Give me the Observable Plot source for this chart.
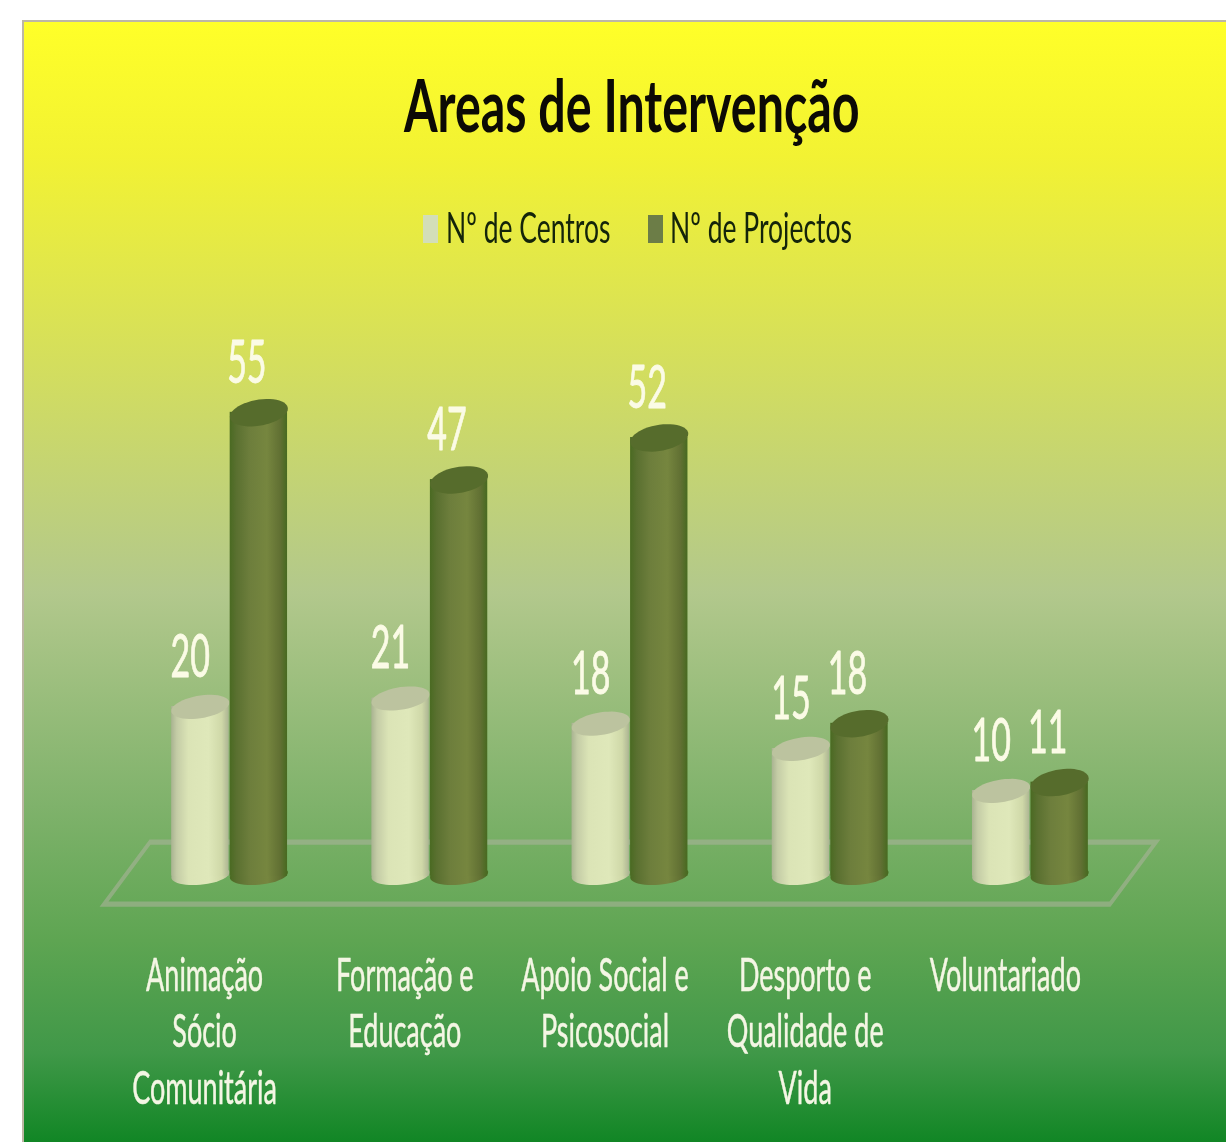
<!DOCTYPE html>
<html lang="pt">
<head>
<meta charset="utf-8">
<script src="https://cdn.jsdelivr.net/npm/d3@7"></script>
<script src="https://cdn.jsdelivr.net/npm/@observablehq/plot@0.6"></script>
<style>
html,body{margin:0;padding:0;background:#fff;}
#page{position:relative;width:1226px;height:1142px;overflow:hidden;background:#fff;font-family:Lato,"Open Sans",sans-serif;}
#panel{position:absolute;left:22px;top:20px;width:1204px;height:1122px;box-sizing:border-box;border-left:2px solid #bdb7a4;border-top:2px solid #bdb7a4;
 background:linear-gradient(180deg,#ffff28 0%,#f2f233 12%,#b2c88c 51%,#7fb26b 70%,#5ea552 82%,#409848 92%,#118625 100%);}
#title{position:absolute;left:404px;top:68px;margin:0;font-size:48.4px;font-weight:700;line-height:1;color:#0c0a05;white-space:nowrap;transform:scale(1,1.49);transform-origin:left top;filter:blur(.5px);}
.lg{position:absolute;top:206px;font-size:26.5px;line-height:1;color:#14240a;white-space:nowrap;transform:scale(1,1.6);transform-origin:left top;filter:blur(.4px);}
.sw{position:absolute;top:215px;width:15px;height:28px;filter:blur(.5px);}
#chart{position:absolute;left:0;top:270px;}
#chart svg{display:block;filter:blur(.6px);}
</style>
</head>
<body>
<div id="page">
  <div id="panel"></div>
  <h1 id="title">Areas de Intervenção</h1>
  <span class="sw" style="left:423px;background:#d3deb8"></span>
  <span class="lg" style="left:446px">Nº de Centros</span>
  <span class="sw" style="left:648px;background:#6c7d47"></span>
  <span class="lg" style="left:670px">Nº de Projectos</span>
  <div id="chart"></div>
</div>
<script>
const categories = ["Animação Sócio Comunitária","Formação e Educação","Apoio Social e Psicosocial","Desporto e Qualidade de Vida","Voluntariado"];
const tickLabels = ["Animação\nSócio\nComunitária","Formação e\nEducação","Apoio Social e\nPsicosocial","Desporto e\nQualidade de\nVida","Voluntariado"];
const seriesNames = ["Nº de Centros","Nº de Projectos"];
const centros = [20,21,18,15,10];
const projectos = [55,47,52,18,11];

const rowsC = categories.map((c,i)=>({cat:c,serie:seriesNames[0],value:centros[i]}));
const rowsP = categories.map((c,i)=>({cat:c,serie:seriesNames[1],value:projectos[i]}));
const ticks = categories.map((c,i)=>({cat:c,label:tickLabels[i]}));

// tilted ellipse used for the cylinder caps
const cap = (rx,ry,k)=>({draw(ctx){
  const n=48;
  for(let i=0;i<=n;i++){
    const t=i/n*2*Math.PI, X=rx*Math.cos(t), Y=ry*Math.sin(t)-k*X;
    i?ctx.lineTo(X,Y):ctx.moveTo(X,Y);
  }
  ctx.closePath();
}});
const baseSym = cap(29,5.6,0.05);

// function marks run once per facet: keep only the first call
const once = fn=>{let done=false;return (...a)=>{if(done) return null;done=true;return fn(...a);};};

const defs = once(()=>{
  const s=d3.create("svg:g");
  const d=s.append("defs");
  const grad=(id,stops)=>{
    const g=d.append("linearGradient").attr("id",id).attr("x1",0).attr("x2",1).attr("y1",0).attr("y2",0);
    stops.forEach(([o,c])=>g.append("stop").attr("offset",o).attr("stop-color",c));
  };
  grad("gLight",[[0,"#a9b391"],[.1,"#c4cca6"],[.3,"#dbe4b6"],[.65,"#dfe8ba"],[.88,"#cfd8a8"],[1,"#adb593"]]);
  grad("gDark",[[0,"#4a6a22"],[.12,"#5a7030"],[.35,"#6d7e3c"],[.65,"#76863f"],[.88,"#617033"],[1,"#476a20"]]);
  return s.node();
});

const floor = once((index,{y})=>{
  const front=y(-3.57), back=y(3.8);
  return d3.create("svg:path")
    .attr("d",`M104,${front}L1110,${front}L1156,${back}L150,${back}Z`)
    .attr("fill","none").attr("stroke","#a9b39a").attr("stroke-opacity",.6).attr("stroke-width",3).node();
});

const cylinder = (rows,gradId,top,ry)=>[
  Plot.dot(rows,{fx:"cat",x:"serie",y:()=>0,symbol:baseSym,r:10,fill:`url(#${gradId})`}),
  Plot.barY(rows,{fx:"cat",x:"serie",y:"value",insetBottom:-1,fill:`url(#${gradId})`}),
  Plot.dot(rows,{fx:"cat",x:"serie",y:"value",symbol:cap(29,ry,0.08),r:10,fill:top})
];

const valueLabel = (rows,dx)=>Plot.text(rows,{fx:"cat",x:"serie",y:"value",text:d=>String(d.value),dx,dy:-28,fontSize:34,fill:"#fbfbe6",stroke:"#fbfbe6",strokeWidth:.5,fontFamily:"Lato"});

const plot = Plot.plot({
  width:1226,height:498,
  marginTop:0,marginBottom:153,marginLeft:129,marginRight:96,
  style:{background:"transparent",fontFamily:"Lato",overflow:"visible"},
  fx:{domain:categories,padding:0,axis:null,round:false},
  x:{domain:seriesNames,paddingInner:.02,paddingOuter:.72,axis:null,round:false},
  y:{domain:[0,71.875],axis:null},
  marks:[
    defs,
    floor,
    ...cylinder(rowsC,"gLight","#bcc39f",6.5),
    ...cylinder(rowsP,"gDark","#566c2c",7.5),
    valueLabel(rowsC,-10),
    valueLabel(rowsP,-12),
    Plot.text(ticks,{fx:"cat",y:()=>0,text:"label",dx:-25,dy:43,lineAnchor:"top",lineHeight:1.2,fontSize:27,fill:"#f4f6e4",stroke:"#f4f6e4",strokeWidth:.3,fontFamily:"Lato"})
  ]
});
plot.setAttribute("preserveAspectRatio","none");
plot.setAttribute("height",872);
plot.style.height="872px";
plot.style.maxWidth="none";
document.getElementById("chart").appendChild(plot);
</script>
</body>
</html>
